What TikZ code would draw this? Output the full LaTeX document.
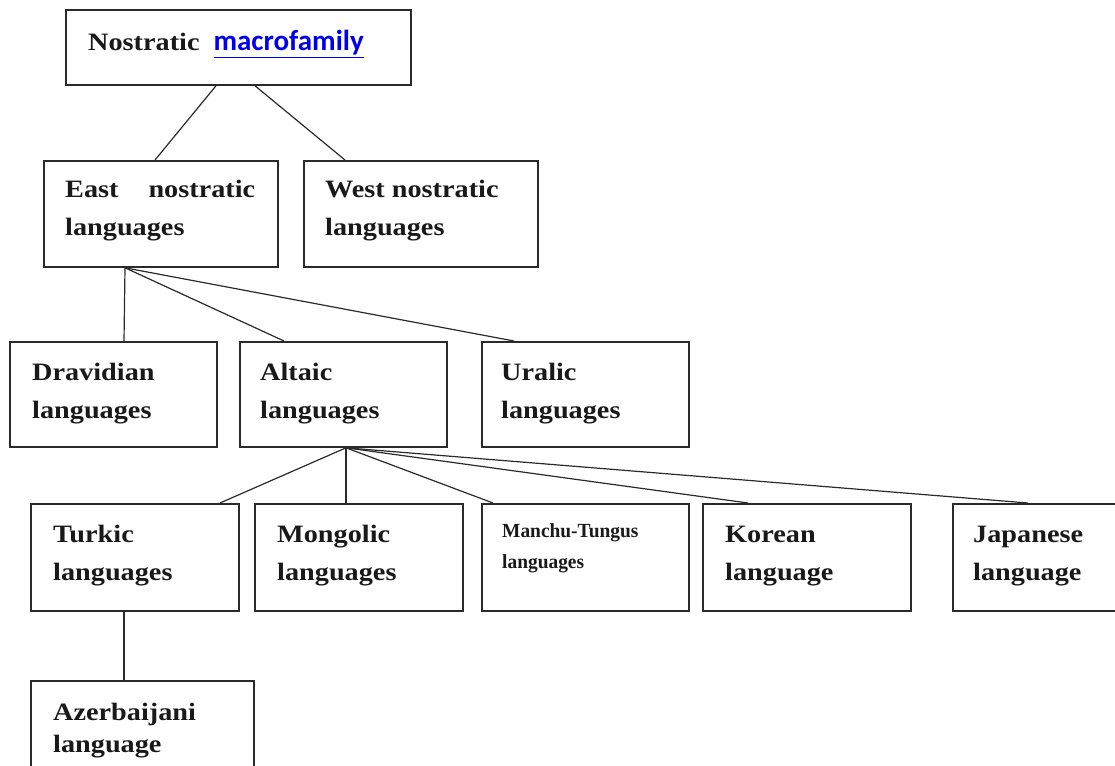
\documentclass[tikz,border=0pt]{standalone}
\usepackage{fontspec}
\setmainfont[FakeStretch=1.13]{Liberation Serif}
\newfontfamily\narrowfont[FakeStretch=0.97]{Liberation Serif}
\newfontfamily\linkfont{Carlito}
\usetikzlibrary{positioning}

\definecolor{boxgray}{HTML}{2A2A2A}
\definecolor{linkblue}{HTML}{0000EE}

\tikzset{
  box/.style={draw=boxgray, line width=1.8pt, anchor=north west, inner sep=0pt,
    minimum height=106pt},
  txt/.style={anchor=base west, inner sep=0pt, align=left, text=black!90,
    font=\bfseries\fontsize{25}{38}\selectfont},
  link/.style={draw=boxgray, line width=1.2pt}
}

\begin{document}
\begin{tikzpicture}[x=1pt,y=-1pt]
  \useasboundingbox (0,0) rectangle (1115,765);
  \clip (0,0) rectangle (1115,765);

  % boxes
  \node[box, minimum width=345pt, minimum height=75pt] (nostr) at (65,9) {};
  \node[box, minimum width=234pt] (east) at (43,160) {};
  \node[box, minimum width=234pt] (west) at (303,160) {};
  \node[box, minimum width=207pt, minimum height=105pt] (drav) at (9,341) {};
  \node[box, minimum width=207pt, minimum height=105pt] (alt) at (239,341) {};
  \node[box, minimum width=207pt, minimum height=105pt] (ural) at (481,341) {};
  \node[box, minimum width=208pt, minimum height=107pt] (turk) at (30,503) {};
  \node[box, minimum width=208pt, minimum height=107pt] (mong) at (254,503) {};
  \node[box, minimum width=207pt, minimum height=107pt] (manchu) at (481,503) {};
  \node[box, minimum width=208pt, minimum height=107pt] (kor) at (702,503) {};
  \node[box, minimum width=240pt, minimum height=107pt] (jap) at (952,503) {};
  \node[box, minimum width=223pt, minimum height=130pt] (azer) at (30,680) {};

  % texts (base = baseline of the last line)
  \node[txt] (tnostr) at ([xshift=23pt,yshift=-42pt]nostr.north west)
    {Nostratic\hspace{14pt}{\linkfont\fontsize{29}{30}\selectfont\color{linkblue}\underline{macrofamily}}};
  \node[txt] (teast) at ([xshift=22pt,yshift=-75pt]east.north west)
    {East\hspace{30pt}nostratic\\languages};
  \node[txt] (twest) at ([xshift=22pt,yshift=-75pt]west.north west)
    {West nostratic\\languages};
  \node[txt] (tdrav) at ([xshift=23pt,yshift=-77pt]drav.north west)
    {Dravidian\\languages};
  \node[txt] (talt) at ([xshift=21pt,yshift=-77pt]alt.north west)
    {Altaic\\languages};
  \node[txt] (tural) at ([xshift=20pt,yshift=-77pt]ural.north west)
    {Uralic\\languages};
  \node[txt] (tturk) at ([xshift=23pt,yshift=-77pt]turk.north west)
    {Turkic\\languages};
  \node[txt] (tmong) at ([xshift=23pt,yshift=-77pt]mong.north west)
    {Mongolic\\languages};
  \node[txt, font=\bfseries\narrowfont\fontsize{20}{31}\selectfont] (tmanchu)
    at ([xshift=21pt,yshift=-65pt]manchu.north west)
    {Manchu-Tungus\\languages};
  \node[txt] (tkor) at ([xshift=23pt,yshift=-77pt]kor.north west)
    {Korean\\language};
  \node[txt] (tjap) at ([xshift=21pt,yshift=-77pt]jap.north west)
    {Japanese\\language};
  \node[txt, font=\bfseries\fontsize{25}{32}\selectfont] (tazer)
    at ([xshift=23pt,yshift=-72pt]azer.north west)
    {Azerbaijani\\language};

  % connectors
  \draw[link] ([xshift=151pt]nostr.south west) -- ([xshift=112pt]east.north west);
  \draw[link] ([xshift=190pt]nostr.south west) -- ([xshift=42pt]west.north west);
  \draw[link] ([xshift=82pt]east.south west) -- ([xshift=115pt]drav.north west);
  \draw[link] ([xshift=82pt]east.south west) -- ([xshift=45pt]alt.north west);
  \draw[link] ([xshift=82pt]east.south west) -- ([xshift=33pt]ural.north west);
  \draw[link] ([xshift=107pt]alt.south west) -- ([xshift=190pt]turk.north west);
  \draw[link] ([xshift=107pt]alt.south west) -- ([xshift=92pt]mong.north west);
  \draw[link] ([xshift=107pt]alt.south west) -- ([xshift=12pt]manchu.north west);
  \draw[link] ([xshift=107pt]alt.south west) -- ([xshift=46pt]kor.north west);
  \draw[link] ([xshift=107pt]alt.south west) -- ([xshift=76pt]jap.north west);
  \draw[link] ([xshift=94pt]turk.south west) -- ([xshift=94pt]azer.north west);
\end{tikzpicture}
\end{document}
